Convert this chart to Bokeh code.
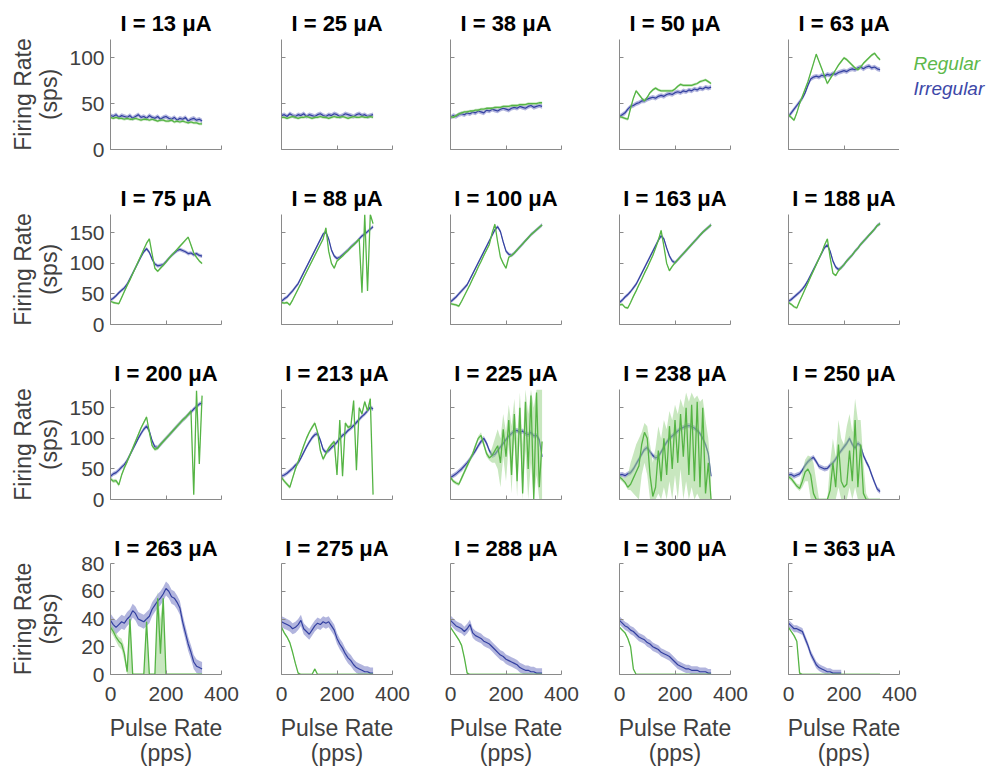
import numpy as np
from bokeh.plotting import figure
from bokeh.layouts import row, column
from bokeh.models import Range1d, FixedTicker, LinearAxis, Label, Plot
from bokeh.embed import file_html
from bokeh.resources import INLINE

nan = float("nan")

# ---------------- data ----------------
pulse_rate = [0, 10, 20, 30, 40, 50, 60, 70, 80, 90, 100, 110, 120, 130, 140, 150, 160,
              170, 180, 190, 200, 210, 220, 230, 240, 250, 260, 270, 280, 290, 300, 310, 320, 330]

currents = [13, 25, 38, 50, 63, 75, 88, 100, 163, 188, 200, 213, 225, 238, 250, 263, 275, 288, 300, 363]

irr_13 = [37, 36, 38, 35, 37, 36, 35, 37, 34, 36, 38, 35, 36, 34, 37, 35, 34, 36, 33, 35, 36, 34, 33, 35, 32, 34, 33, 35, 31, 33, 34, 32, 33, 31]
reg_13 = [35, 34, 35, 34, 34, 33, 34, 33, 33, 34, 33, 32, 33, 33, 32, 33, 32, 31, 32, 32, 31, 31, 32, 30, 31, 30, 31, 30, 29, 30, 29, 29, 28, 28]
irr_25 = [37, 38, 36, 39, 37, 36, 38, 37, 39, 36, 38, 37, 36, 38, 39, 37, 36, 38, 37, 39, 38, 36, 37, 39, 38, 37, 36, 38, 39, 37, 38, 36, 37, 38]
reg_25 = [35, 35, 34, 35, 36, 35, 34, 35, 35, 36, 35, 34, 35, 35, 36, 35, 35, 34, 35, 36, 35, 35, 36, 35, 34, 35, 36, 35, 35, 36, 35, 35, 36, 35]
irr_38 = [35, 37, 36, 38, 39, 38, 40, 39, 41, 40, 42, 41, 40, 43, 42, 44, 43, 42, 44, 45, 44, 43, 45, 46, 45, 47, 46, 45, 47, 48, 46, 47, 48, 47]
reg_38 = [36, 35, 37, 39, 40, 41, 41, 42, 42, 43, 43, 44, 44, 45, 45, 45, 46, 46, 46, 47, 47, 47, 48, 48, 48, 49, 49, 49, 50, 50, 50, 50, 51, 51]
irr_50 = [36, 38, 40, 44, 47, 48, 50, 51, 53, 53, 55, 56, 57, 56, 58, 59, 58, 60, 61, 60, 62, 63, 62, 64, 63, 65, 64, 66, 65, 67, 66, 68, 67, 68]
reg_50 = [36, 35, 34, 33, 45, 56, 64, 60, 56, 53, 57, 62, 65, 67, 65, 64, 64, 64, 64, 64, 66, 69, 71, 70, 70, 70, 70, 71, 72, 74, 75, 76, 74, 72]
irr_63 = [36, 40, 44, 48, 52, 56, 62, 70, 77, 79, 80, 79, 81, 80, 82, 81, 83, 82, 84, 85, 86, 85, 87, 88, 87, 89, 90, 88, 90, 91, 89, 90, 88, 87]
reg_63 = [38, 35, 32, 40, 50, 58, 66, 74, 84, 94, 104, 96, 88, 80, 72, 77, 82, 87, 92, 96, 100, 98, 95, 92, 89, 87, 90, 94, 97, 100, 103, 105, 101, 98]

irr_75 = [40, 43, 47, 52, 56, 60, 66, 75, 84, 93, 102, 111, 119, 124, 118, 107, 99, 96, 97, 98, 103, 108, 113, 117, 121, 123, 121, 119, 116, 117, 114, 116, 113, 112]
reg_75 = [38, 36, 35, 34, 44, 54, 64, 73, 83, 93, 103, 113, 123, 133, 140, 115, 92, 87, 92, 97, 102, 108, 113, 118, 123, 128, 133, 138, 143, 130, 117, 110, 104, 100]
irr_88 = [38, 42, 45, 50, 55, 61, 67, 76, 85, 94, 103, 112, 121, 130, 139, 148, 151, 140, 122, 112, 108, 110, 114, 118, 122, 127, 131, 135, 140, 145, 148, 152, 156, 160]
reg_88 = [36, 35, 36, 32, 40, 49, 58, 67, 77, 86, 95, 104, 113, 122, 131, 140, 158, 120, 100, 92, 104, 108, 112, 117, 121, 126, 130, 135, 140, 52, 180, 55, 180, 165]
irr_100 = [37, 41, 45, 50, 55, 60, 65, 74, 83, 92, 101, 110, 119, 128, 137, 146, 155, 160, 152, 135, 120, 115, 113, 117, 122, 127, 132, 137, 142, 147, 151, 155, 159, 163]
reg_100 = [34, 33, 32, 30, 38, 47, 56, 65, 75, 84, 94, 103, 113, 122, 131, 150, 164, 135, 110, 100, 92, 110, 113, 117, 122, 127, 132, 137, 142, 147, 151, 155, 159, 163]
irr_163 = [36, 40, 45, 49, 54, 60, 66, 75, 84, 93, 102, 111, 120, 129, 138, 145, 140, 125, 112, 104, 101, 106, 111, 116, 121, 126, 131, 136, 141, 146, 151, 155, 159, 163]
reg_163 = [32, 33, 28, 27, 36, 46, 55, 65, 74, 84, 93, 103, 113, 125, 138, 154, 128, 100, 88, 95, 101, 106, 111, 116, 121, 126, 131, 136, 141, 146, 151, 155, 159, 163]
irr_188 = [38, 41, 45, 49, 53, 58, 64, 72, 81, 90, 99, 108, 117, 126, 130, 120, 104, 94, 90, 93, 98, 104, 109, 114, 120, 125, 131, 136, 141, 146, 151, 156, 162, 165]
reg_188 = [36, 33, 29, 27, 38, 48, 58, 68, 78, 88, 98, 108, 118, 130, 140, 110, 84, 80, 88, 93, 98, 104, 109, 114, 120, 125, 131, 136, 141, 146, 151, 156, 162, 165]

irr_200 = [38, 42, 44, 48, 53, 57, 64, 73, 82, 91, 100, 108, 115, 120, 112, 96, 86, 85, 90, 95, 100, 105, 110, 115, 120, 125, 130, 134, 139, 143, 148, 152, 156, 158]
reg_200 = [34, 30, 31, 24, 40, 52, 62, 73, 84, 95, 106, 117, 126, 135, 110, 88, 82, 84, 90, 95, 100, 105, 110, 115, 120, 125, 130, 134, 139, 145, 8, 178, 58, 170]
irr_213 = [38, 40, 43, 47, 51, 56, 60, 68, 77, 86, 94, 101, 106, 108, 97, 82, 77, 80, 85, 89, 94, 100, 105, 108, 113, 117, 121, 126, 131, 136, 140, 145, 151, 148]
reg_213 = [36, 30, 25, 20, 35, 50, 62, 75, 88, 100, 110, 118, 125, 110, 80, 66, 75, 84, 90, 95, 40, 130, 38, 125, 118, 120, 162, 48, 150, 140, 160, 145, 165, 8]
irr_225 = [36, 39, 42, 46, 50, 55, 60, 66, 73, 80, 88, 95, 100, 92, 80, 72, 74, 80, 86, 92, 98, 104, 108, 112, 113, 110, 112, 108, 106, 110, 104, 105, 98, 70]
reg_225 = [36, 30, 27, 25, 35, 45, 55, 65, 75, 88, 100, 105, 90, 75, 68, 72, 80, 88, 60, 115, 70, 130, 40, 140, 30, 150, 10, 160, 50, 170, 0, 175, 20, 95]
reg_225_lo = [33, 27, 24, 22, 31, 41, 51, 61, 71, 84, 96, 100, 85, 70, 64, 60, 60, 50, 20, 70, 30, 90, 10, 100, 5, 110, 0, 80, 0, 60, 0, 40, 0, 0]
reg_225_hi = [39, 33, 30, 28, 39, 49, 59, 69, 79, 92, 104, 110, 95, 80, 72, 85, 100, 115, 100, 140, 110, 155, 120, 165, 100, 175, 90, 180, 140, 180, 150, 180, 180, 180]
irr_238 = [40, 41, 39, 42, 44, 50, 58, 66, 74, 82, 85, 78, 72, 68, 70, 78, 86, 94, 100, 104, 108, 112, 116, 118, 120, 121, 119, 117, 113, 108, 100, 90, 75, 38]
reg_238 = [37, 33, 28, 20, 25, 35, 45, 55, 90, 110, 100, 40, 5, 20, 80, 30, 100, 40, 120, 50, 130, 60, 140, 70, 150, 40, 155, 30, 160, 20, 150, 10, 60, 0]
reg_238_lo = [33, 29, 24, 16, 15, 10, 5, 0, 40, 60, 40, 0, 0, 0, 10, 0, 20, 0, 30, 0, 40, 0, 50, 0, 30, 0, 20, 0, 10, 0, 0, 0, 0, 0]
reg_238_hi = [41, 37, 35, 40, 60, 75, 90, 100, 110, 125, 120, 90, 60, 85, 120, 100, 130, 115, 145, 130, 155, 140, 165, 150, 175, 160, 175, 165, 170, 160, 165, 130, 100, 40]
irr_250 = [40, 41, 38, 40, 42, 48, 56, 62, 66, 69, 62, 54, 52, 50, 51, 56, 60, 66, 74, 80, 86, 92, 100, 90, 84, 92, 88, 72, 62, 53, 40, 28, 17, 13]
reg_250 = [37, 34, 28, 22, 18, 30, 45, 50, 40, 10, 0, 0, 0, 0, 0, 15, 60, 20, 90, 30, 20, 25, 80, 30, 130, 20, 90, 10, 0, 0, 0, 0, 0, 0]
reg_250_lo = [34, 30, 24, 18, 14, 20, 30, 30, 0, 0, 0, 0, 0, 0, 0, 0, 0, 0, 20, 0, 0, 0, 20, 0, 20, 0, 0, 0, 0, 0, 0, 0, 0, 0]
reg_250_hi = [40, 38, 32, 26, 24, 45, 65, 72, 70, 60, 30, 1, 1, 1, 1, 60, 100, 70, 130, 100, 90, 120, 140, 110, 165, 130, 130, 60, 10, 1, 1, 1, 1, 1]

irr_263 = [39, 36, 34, 36, 38, 37, 40, 42, 46, 44, 40, 39, 38, 40, 42, 47, 50, 53, 55, 58, 62, 60, 56, 55, 52, 48, 38, 30, 22, 16, 9, 6, 5, 4]
reg_263 = [34, 31, 27, 24, 22, 15, 2, 40, 0, 0, 0, 0, 0, 38, 0, 0, 0, 55, 15, 55, 0, 0, 0, 0, 0, 0, 0, 0, 0, 0, 0, 0, 0, 0]
reg_263_lo = [31, 28, 24, 20, 18, 10, 0, 0, 0, 0, 0, 0, 0, 0, 0, 0, 0, 0, 0, 0, 0, 0, 0, 0, 0, 0, 0, 0, 0, 0, 0, 0, 0, 0]
reg_263_hi = [37, 34, 30, 27, 26, 20, 5, 45, 1, 1, 1, 1, 1, 42, 1, 1, 1, 60, 40, 58, 1, 1, 1, 1, 1, 1, 1, 1, 1, 1, 1, 1, 1, 1]
irr_275 = [38, 37, 36, 35, 33, 34, 36, 39, 33, 31, 29, 32, 35, 37, 36, 38, 37, 38, 35, 32, 26, 22, 19, 15, 12, 10, 7, 5, 4, 3, 2, 2, 1, 1]
reg_275 = [34, 30, 27, 23, 16, 8, 1, 0, 0, 0, 0, 0, 4, 0, 0, 0, 0, 0, 0, 0, 0, 0, 0, 0, 0, 0, 0, 0, 0, 0, 0, 0, 0, 0]
irr_288 = [39, 37, 35, 34, 33, 31, 33, 36, 30, 28, 27, 26, 24, 23, 22, 20, 18, 16, 14, 13, 11, 10, 9, 8, 7, 5, 4, 3, 3, 2, 2, 1, 1, 1]
reg_288 = [34, 31, 28, 25, 21, 12, 1, 0, 0, 0, 0, 0, 0, 0, 0, 0, 0, 0, 0, 0, 0, 0, 0, 0, 0, 0, 0, 0, 0, 0, 0, 0, 0, 0]
irr_300 = [39, 37, 35, 34, 32, 31, 29, 27, 26, 25, 23, 22, 20, 19, 18, 16, 15, 14, 13, 11, 9, 7, 6, 5, 4, 4, 3, 3, 3, 2, 2, 2, 1, 1]
reg_300 = [34, 32, 30, 26, 20, 4, 0, 0, 0, 0, 0, 0, 0, 0, 0, 0, 0, 0, 0, 0, 0, 0, 0, 0, 0, 0, 0, 0, 0, 0, 0, 0, 0, 0]
irr_363 = [37, 35, 33, 33, 32, 31, 26, 21, 15, 11, 7, 5, 4, 3, 2, 2, 1, 1, 1, 1, nan, nan, nan, nan, nan, nan, nan, nan, nan, nan, nan, nan, nan, nan]
reg_363 = [34, 31, 28, 24, 1, 0, 0, 0, 0, 0, 0, 0, 0, 0, 0, 0, 0, 0, 0, 0, 0, 0, 0, 0, 0, 0, 0, 0, 0, 0, 0, 0, 0, 0]

irregular = [irr_13, irr_25, irr_38, irr_50, irr_63, irr_75, irr_88, irr_100, irr_163, irr_188,
             irr_200, irr_213, irr_225, irr_238, irr_250, irr_263, irr_275, irr_288, irr_300, irr_363]
regular = [reg_13, reg_25, reg_38, reg_50, reg_63, reg_75, reg_88, reg_100, reg_163, reg_188,
           reg_200, reg_213, reg_225, reg_238, reg_250, reg_263, reg_275, reg_288, reg_300, reg_363]
irr_sem = [2.5, 2.5, 2.5, 2.5, 2.5, 3, 3, 3, 3, 3, 3.5, 3.5, 4, 4, 4, 5, 4, 3.5, 3, 2.5]
reg_sem = [1.5, 1.5, 1.5, 1.5, 1.5, 2, 2, 2, 2, 2, 3, 3, 0, 0, 0, 0, 0.8, 0.8, 0.8, 0.8]
reg_bounds = {225: (reg_225_lo, reg_225_hi), 238: (reg_238_lo, reg_238_hi),
              250: (reg_250_lo, reg_250_hi), 263: (reg_263_lo, reg_263_hi)}

row_ymax = [120, 180, 180, 80]
row_yticks = [[0, 50, 100], [0, 50, 100, 150], [0, 50, 100, 150], [0, 20, 40, 60, 80]]
x_ticks = [0, 200, 400]
legend_labels = ["Regular", "Irregular"]

# ---------------- styling ----------------
FONT = "Liberation Sans"
BLUE_LINE = "#3340A0"
BLUE_BAND = "#7F84C8"
GREEN_LINE = "#55B444"
GREEN_BAND = "#9AD48A"
AXIS_COL = "#8a8a8a"
TEXT_COL = "#404040"

col_width = [271, 169, 169, 169, 208]
row_top = [39, 39, 39, 39]
row_frame_h = [110, 110, 110, 111]
row_bottom = [26, 26, 25, 95]
FRAME_W = 111
LEGEND_W = 87


def style_axis(ax, show_labels):
    ax.axis_line_color = AXIS_COL
    ax.major_tick_line_color = AXIS_COL
    ax.major_tick_in = 4
    ax.major_tick_out = 0
    ax.minor_tick_line_color = None
    ax.major_label_text_font = FONT
    if show_labels:
        ax.major_label_text_font_size = "21px"
        ax.major_label_text_color = TEXT_COL
    else:
        ax.major_label_text_font_size = "2px"
        ax.major_label_text_color = None
    ax.axis_label_text_font = FONT
    ax.axis_label_text_font_size = "23px"
    ax.axis_label_text_font_style = "normal"
    ax.axis_label_text_color = TEXT_COL


def label_only_axis(ax, standoff):
    ax.axis_line_color = None
    ax.major_tick_line_color = None
    ax.minor_tick_line_color = None
    ax.major_label_text_font_size = "2px"
    ax.major_label_text_color = None
    ax.major_label_standoff = 0
    ax.axis_label_standoff = standoff
    ax.axis_label_text_font = FONT
    ax.axis_label_text_font_size = "23px"
    ax.axis_label_text_font_style = "normal"
    ax.axis_label_text_color = TEXT_COL


x = np.array(pulse_rate, dtype=float)
grid_rows = []
for i, cur in enumerate(currents):
    r, c = divmod(i, 5)
    left = 110 if c == 0 else 10
    width = col_width[c]
    if r == 0 and c == 4:
        width -= LEGEND_W
    right = width - left - FRAME_W
    top = row_top[r]
    bottom = row_bottom[r]
    height = top + row_frame_h[r] + bottom
    p = figure(width=width, height=height, x_range=Range1d(0, 400), y_range=Range1d(0, row_ymax[r]),
               x_axis_type=None, y_axis_type=None, output_backend="svg", toolbar_location=None,
               min_border_left=left, min_border_right=right, min_border_top=top, min_border_bottom=bottom,
               title="I = %d \u03bcA" % cur)
    p.outline_line_color = None
    p.background_fill_color = "white"
    p.border_fill_color = "white"
    p.title.align = "center"
    p.title.text_font = FONT
    p.title.text_font_size = "22px"
    p.title.text_font_style = "bold"
    p.title.text_color = "black"
    p.title.standoff = 7 if r < 3 else 5

    # axes
    xa = LinearAxis(ticker=FixedTicker(ticks=x_ticks))
    style_axis(xa, r == 3)
    xa.major_label_standoff = 12 if r == 3 else 4
    if r == 3:
        xa.axis_label = "Pulse Rate"
        xa.axis_label_standoff = 11
    p.add_layout(xa, "below")
    if r == 3:
        xa2 = LinearAxis(ticker=FixedTicker(ticks=[]), axis_label="(pps)")
        label_only_axis(xa2, -4)
        p.add_layout(xa2, "below")

    ya = LinearAxis(ticker=FixedTicker(ticks=row_yticks[r]))
    style_axis(ya, c == 0)
    ya.major_label_standoff = 6
    if c == 0:
        ya.axis_label = "(sps)"
        ya.axis_label_standoff = 16 if r == 3 else 4
    p.add_layout(ya, "left")
    if c == 0:
        ya2 = LinearAxis(ticker=FixedTicker(ticks=[]), axis_label="Firing Rate")
        label_only_axis(ya2, -2)
        p.add_layout(ya2, "left")

    # data
    irr = np.array(irregular[i], dtype=float)
    reg = np.array(regular[i], dtype=float)
    if cur in reg_bounds:
        lo = np.array(reg_bounds[cur][0], dtype=float)
        hi = np.array(reg_bounds[cur][1], dtype=float)
    else:
        lo = np.maximum(reg - reg_sem[i], 0)
        hi = reg + reg_sem[i]
    p.varea(x=x, y1=np.maximum(irr - irr_sem[i], 0), y2=irr + irr_sem[i],
            fill_color=BLUE_BAND, fill_alpha=0.6)
    p.line(x=x, y=irr, line_color=BLUE_LINE, line_width=1.2)
    p.varea(x=x, y1=lo, y2=hi, fill_color=GREEN_BAND, fill_alpha=0.55)
    p.line(x=x, y=reg, line_color=GREEN_LINE, line_width=1.3)

    if c == 0:
        grid_rows.append([])
    grid_rows[-1].append(p)

# legend panel to the right of the first row; its frame is aligned with the row's frames
# (top border 39, frame 110 px), so the y range counts pixels upward from the frame bottom.
top0, bot0, fh0 = row_top[0], row_bottom[0], row_frame_h[0]
lh = top0 + fh0 + bot0
leg = Plot(width=LEGEND_W, height=lh, x_range=Range1d(0, LEGEND_W), y_range=Range1d(0, fh0),
           output_backend="svg", toolbar_location=None, min_border_left=0, min_border_right=0,
           min_border_top=top0, min_border_bottom=bot0, outline_line_color=None, title=None)
frame_bottom_px = top0 + fh0
leg.add_layout(Label(x=14, y=frame_bottom_px - 63, text=legend_labels[0], text_color="#5DB84A",
                     text_font=FONT, text_font_size="19px", text_font_style="italic",
                     text_baseline="alphabetic"))
leg.add_layout(Label(x=14, y=frame_bottom_px - 88, text=legend_labels[1], text_color="#3D48A8",
                     text_font=FONT, text_font_size="19px", text_font_style="italic",
                     text_baseline="alphabetic"))
grid_rows[0].append(leg)

layout = column(*[row(*rw) for rw in grid_rows])
open("out.html", "w").write(file_html(layout, INLINE))
